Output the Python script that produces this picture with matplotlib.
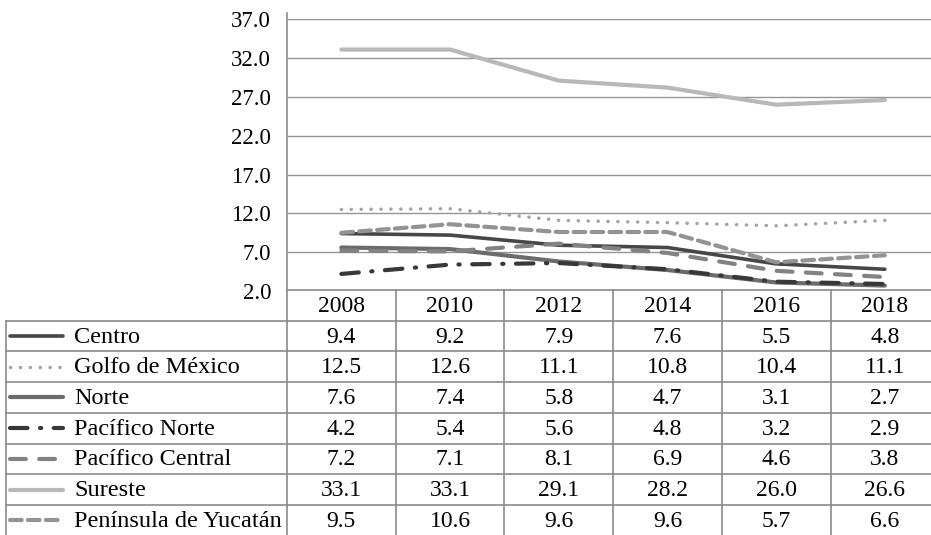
import matplotlib
matplotlib.use("Agg")
import matplotlib.pyplot as plt
import numpy as np

years = ["2008", "2010", "2012", "2014", "2016", "2018"]
regions = ["Centro", "Golfo de México", "Norte", "Pacífico Norte",
           "Pacífico Central", "Sureste", "Península de Yucatán"]
centro = [9.4, 9.2, 7.9, 7.6, 5.5, 4.8]
golfo = [12.5, 12.6, 11.1, 10.8, 10.4, 11.1]
norte = [7.6, 7.4, 5.8, 4.7, 3.1, 2.7]
pac_norte = [4.2, 5.4, 5.6, 4.8, 3.2, 2.9]
pac_central = [7.2, 7.1, 8.1, 6.9, 4.6, 3.8]
sureste = [33.1, 33.1, 29.1, 28.2, 26.0, 26.6]
yucatan = [9.5, 10.6, 9.6, 9.6, 5.7, 6.6]
series = [centro, golfo, norte, pac_norte, pac_central, sureste, yucatan]
yticks = [2.0, 7.0, 12.0, 17.0, 22.0, 27.0, 32.0, 37.0]

# line styles (colour, width pt, dash pattern)
styles = [
    dict(color="#474747", lw=2.6, ls="-", solid_capstyle="round"),
    dict(color="#a3a3a3", lw=2.5, ls=(0, (0.05, 2.8)), dash_capstyle="round"),
    dict(color="#6b6b6b", lw=3.0, ls="-", solid_capstyle="round"),
    dict(color="#383838", lw=3.0, ls=(0, (4.2, 3.0, 0.3, 3.0)), dash_capstyle="round"),
    dict(color="#828282", lw=3.0, ls=(0, (3.8, 3.2)), dash_capstyle="round"),
    dict(color="#b8b8b8", lw=3.0, ls="-", solid_capstyle="round"),
    dict(color="#939393", lw=3.0, ls=(0, (2.8, 1.5)), dash_capstyle="round"),
]

W, H = 931, 535
fig = plt.figure(figsize=(W / 100, H / 100), dpi=100)
font = "Liberation Serif"
fs = 17
border = "#8a8a8a"

x0 = 287          # left edge of plot / first year column
colw = 108.7      # width of a year column
ybot, ytop = 291, 19.3
row0, rowh = 290, 30.7

ax = fig.add_axes([x0 / W, 1 - ybot / H, 6 * colw / W, (ybot - ytop) / H])
xs = np.arange(len(years)) + 0.5
for vals, st in zip(series, styles):
    ax.plot(xs, vals, **st, zorder=3)
ax.set_xlim(0, 6)
ax.set_ylim(2, 37)
ax.set_yticks(yticks)
ax.set_yticklabels([f"{v:.1f}" for v in yticks], fontfamily=font, fontsize=16.5)
ax.tick_params(axis="y", length=0, pad=11.5)
ax.set_xticks([])
for s in ax.spines.values():
    s.set_visible(False)
ax.grid(axis="y", color="#959595", lw=1.0)
ax.set_axisbelow(True)
ax.patch.set_alpha(0)

# data table below the plot
tax = fig.add_axes([0, 0, 1, 1], zorder=-1)
tax.set_xlim(0, W)
tax.set_ylim(H, 0)
tax.axis("off")
lk = dict(color=border, lw=1.2)
tax.plot([x0, x0], [13, H], **lk)
tax.plot([x0, W], [row0, row0], **lk)
for i in range(1, len(regions) + 1):
    tax.plot([6, W], [row0 + i * rowh] * 2, **lk)
tax.plot([6, 6], [row0 + rowh, H], **lk)
for j in range(1, 6):
    tax.plot([x0 + j * colw] * 2, [row0, H], **lk)

for j, yr in enumerate(years):
    tax.text(x0 + (j + 0.5) * colw, row0 + rowh / 2 + 1, yr, ha="center",
             va="center", fontfamily=font, fontsize=fs)
for i, (name, vals, st) in enumerate(zip(regions, series, styles)):
    yc = row0 + (i + 1.5) * rowh
    tax.plot([10, 63], [yc, yc], **st)
    tax.text(74, yc + 1, name, ha="left", va="center", fontfamily=font, fontsize=17.5)
    for j, v in enumerate(vals):
        tax.text(x0 + (j + 0.5) * colw, yc + 1, f"{v:.1f}", ha="center",
                 va="center", fontfamily=font, fontsize=fs)

fig.savefig("out.png", dpi=100)
